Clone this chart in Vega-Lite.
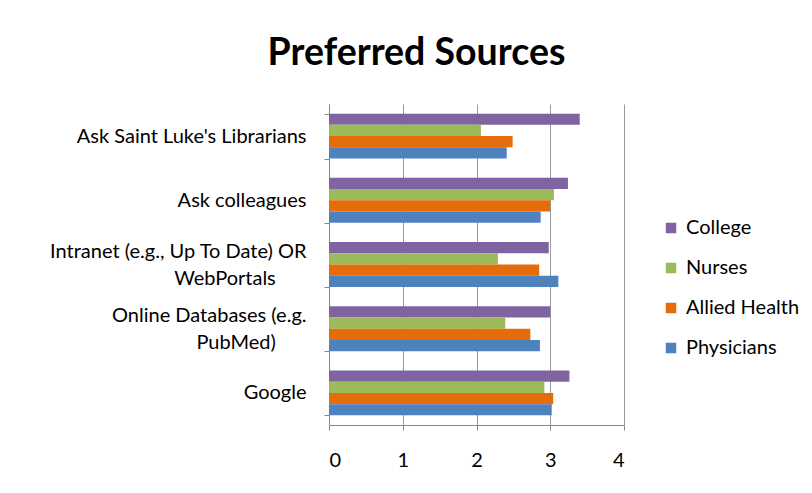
{
  "$schema": "https://vega.github.io/schema/vega-lite/v6.json",
  "autosize": "none",
  "width": 295,
  "height": 321,
  "padding": {"left": 329, "top": 104, "right": 188, "bottom": 68},
  "background": "white",
  "title": {
    "text": "Preferred Sources",
    "font": "Lato",
    "fontSize": 37.5,
    "fontWeight": "bold",
    "color": "#000000",
    "anchor": "middle",
    "dx": -60,
    "offset": 22
  },
  "data": {
    "values": [
      {"source": "Ask Saint Luke's Librarians", "group": "College", "value": 3.40},
      {"source": "Ask Saint Luke's Librarians", "group": "Nurses", "value": 2.06},
      {"source": "Ask Saint Luke's Librarians", "group": "Allied Health", "value": 2.49},
      {"source": "Ask Saint Luke's Librarians", "group": "Physicians", "value": 2.41},
      {"source": "Ask colleagues", "group": "College", "value": 3.24},
      {"source": "Ask colleagues", "group": "Nurses", "value": 3.05},
      {"source": "Ask colleagues", "group": "Allied Health", "value": 3.00},
      {"source": "Ask colleagues", "group": "Physicians", "value": 2.87},
      {"source": "Intranet (e.g., Up To Date) OR|WebPortals", "group": "College", "value": 2.98},
      {"source": "Intranet (e.g., Up To Date) OR|WebPortals", "group": "Nurses", "value": 2.29},
      {"source": "Intranet (e.g., Up To Date) OR|WebPortals", "group": "Allied Health", "value": 2.85},
      {"source": "Intranet (e.g., Up To Date) OR|WebPortals", "group": "Physicians", "value": 3.11},
      {"source": "Online Databases (e.g.|PubMed)", "group": "College", "value": 3.00},
      {"source": "Online Databases (e.g.|PubMed)", "group": "Nurses", "value": 2.39},
      {"source": "Online Databases (e.g.|PubMed)", "group": "Allied Health", "value": 2.73},
      {"source": "Online Databases (e.g.|PubMed)", "group": "Physicians", "value": 2.86},
      {"source": "Google", "group": "College", "value": 3.26},
      {"source": "Google", "group": "Nurses", "value": 2.92},
      {"source": "Google", "group": "Allied Health", "value": 3.04},
      {"source": "Google", "group": "Physicians", "value": 3.02}
    ]
  },
  "mark": {"type": "bar", "cornerRadius": 0},
  "encoding": {
    "y": {
      "field": "source",
      "type": "nominal",
      "sort": null,
      "scale": {"paddingInner": 0.3, "paddingOuter": 0.15},
      "axis": {
        "title": null,
        "labelExpr": "indexof(datum.label, '|') >= 0 ? [split(datum.label, '|')[0], '\u200b', split(datum.label, '|')[1] + '\u00a0\u00a0\u00a0\u00a0\u00a0\u00a0\u200b'] : ['\u200b', datum.label]",
        "labelFont": "Lato",
        "labelFontSize": 20,
        "labelColor": "#000000",
        "labelPadding": 18,
        "labelLimit": 400,
        "labelLineHeight": 13.5,
        "labelOffset": -13.5,
        "tickBand": "extent",
        "tickSize": 5,
        "tickColor": "#888888",
        "domainColor": "#888888",
        "grid": false
      }
    },
    "x": {
      "field": "value",
      "type": "quantitative",
      "scale": {"domain": [0, 4]},
      "axis": {
        "title": null,
        "values": [0, 1, 2, 3, 4],
        "format": "d",
        "labelFont": "Lato",
        "labelFontSize": 20,
        "labelColor": "#000000",
        "labelPadding": 20,
        "tickSize": 5,
        "tickColor": "#888888",
        "domainColor": "#888888",
        "grid": true,
        "gridColor": "#999999",
        "gridWidth": 1
      }
    },
    "yOffset": {
      "field": "group",
      "type": "nominal",
      "sort": ["College", "Nurses", "Allied Health", "Physicians"]
    },
    "color": {
      "field": "group",
      "type": "nominal",
      "sort": ["College", "Nurses", "Allied Health", "Physicians"],
      "scale": {
        "domain": ["College", "Nurses", "Allied Health", "Physicians"],
        "range": ["#8064A2", "#9BBB59", "#E46C0A", "#4F81BD"]
      },
      "legend": {
        "title": null,
        "orient": "none",
        "legendX": 332,
        "legendY": 114,
        "symbolType": "square",
        "symbolSize": 110,
        "symbolStrokeWidth": 0,
        "labelFont": "Lato",
        "labelFontSize": 20,
        "labelColor": "#000000",
        "labelOffset": 5,
        "rowPadding": 20
      }
    }
  },
  "config": {
    "view": {"stroke": null}
  }
}
